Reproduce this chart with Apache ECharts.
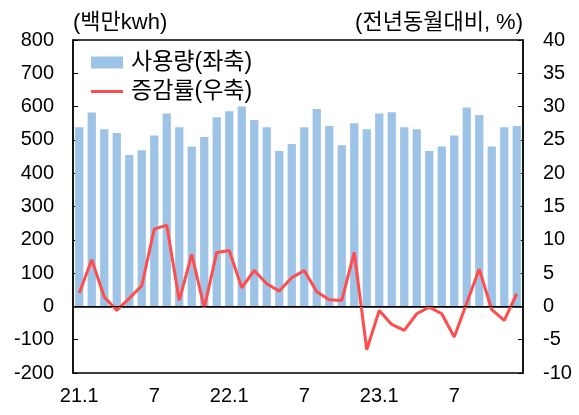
<!DOCTYPE html>
<html>
<head>
<meta charset="utf-8">
<script src="https://cdn.jsdelivr.net/npm/echarts@6/dist/echarts.min.js"></script>
<style>
  html, body { margin: 0; padding: 0; background: #fff; }
  #main { width: 579px; height: 415px; }
</style>
</head>
<body>
<div id="main"></div>
<script>
var months = [
  '21.1', '2', '3', '4', '5', '6', '7', '8', '9', '10', '11', '12',
  '22.1', '2', '3', '4', '5', '6', '7', '8', '9', '10', '11', '12',
  '23.1', '2', '3', '4', '5', '6', '7', '8', '9', '10', '11', '12'
];
var usage = [
  538, 582, 532, 521, 455, 469, 513, 579, 538, 480, 509, 568,
  586, 600, 560, 538, 467, 488, 538, 593, 542, 484, 550, 532,
  579, 583, 538, 532, 467, 480, 513, 597, 575, 480, 538, 542
];
var growth = [
  2.0, 7.0, 1.4, -0.6, 1.2, 3.1, 11.6, 12.2, 0.9, 7.8, -0.2, 8.1,
  8.4, 2.8, 5.4, 3.4, 2.3, 4.3, 5.4, 2.2, 1.0, 0.9, 8.1, -6.5,
  -0.6, -2.7, -3.6, -1.1, -0.1, -1.1, -4.6, 0.5, 5.6, -0.5, -2.1, 1.9
];

var font = 'Liberation Sans, Arial, Noto Sans CJK KR, sans-serif';
var chartDom = document.getElementById('main');
var myChart = echarts.init(chartDom);
var option;

option = {
  animation: false,
  textStyle: { fontFamily: font, color: '#000' },
  grid: {
    left: 73,
    right: 56,
    top: 40,
    bottom: 42,
    show: true,
    borderColor: '#000',
    borderWidth: 1.3
  },
  legend: {
    orient: 'vertical',
    left: 86,
    top: 46,
    itemWidth: 32,
    itemHeight: 12,
    itemGap: 6,
    textStyle: { fontSize: 23, fontFamily: font, color: '#000', padding: [0, 0, 0, 3] },
    data: [
      { name: '사용량(좌축)', icon: 'rect' },
      { name: '증감률(우축)', icon: 'path://M0,0h32v3h-32z' }
    ]
  },
  xAxis: {
    type: 'category',
    data: months,
    axisLine: { lineStyle: { color: '#000', width: 1.5 } },
    axisTick: { inside: true, interval: 5, length: 6, lineStyle: { color: '#000' } },
    axisLabel: { interval: 5, fontSize: 20, margin: 13, color: '#000', fontFamily: font },
    splitLine: { show: false }
  },
  yAxis: [
    {
      type: 'value',
      min: -200,
      max: 800,
      interval: 100,
      name: '(백만kwh)',
      nameLocation: 'end',
      nameGap: 6,
      nameTextStyle: { fontSize: 22, align: 'left', color: '#000', fontFamily: font },
      axisLine: { show: true, lineStyle: { color: '#000', width: 1.5 } },
      axisTick: { show: true, inside: true, length: 5, lineStyle: { color: '#000' } },
      axisLabel: { fontSize: 20, margin: 19, color: '#000', fontFamily: font },
      splitLine: { show: false }
    },
    {
      type: 'value',
      min: -10,
      max: 40,
      interval: 5,
      name: '(전년동월대비, %)',
      nameLocation: 'end',
      nameGap: 6,
      nameTextStyle: { fontSize: 22, align: 'right', color: '#000', fontFamily: font },
      axisLine: { show: true, lineStyle: { color: '#000', width: 1.5 } },
      axisTick: { show: true, inside: true, length: 5, lineStyle: { color: '#000' } },
      axisLabel: { fontSize: 20, margin: 20, color: '#000', fontFamily: font },
      splitLine: { show: false }
    }
  ],
  series: [
    {
      name: '사용량(좌축)',
      type: 'bar',
      yAxisIndex: 0,
      data: usage,
      barCategoryGap: '34%',
      itemStyle: { color: '#9DC3E6' },
      markLine: {
        silent: true,
        symbol: 'none',
        label: { show: false },
        lineStyle: { color: '#000', width: 1, type: 'solid' },
        data: [{ yAxis: 0 }]
      }
    },
    {
      name: '증감률(우축)',
      type: 'line',
      yAxisIndex: 1,
      data: growth,
      symbol: 'none',
      lineStyle: { color: '#FF4D4D', width: 3 },
      itemStyle: { color: '#FF4D4D' }
    }
  ]
};

option && myChart.setOption(option);
</script>
</body>
</html>
